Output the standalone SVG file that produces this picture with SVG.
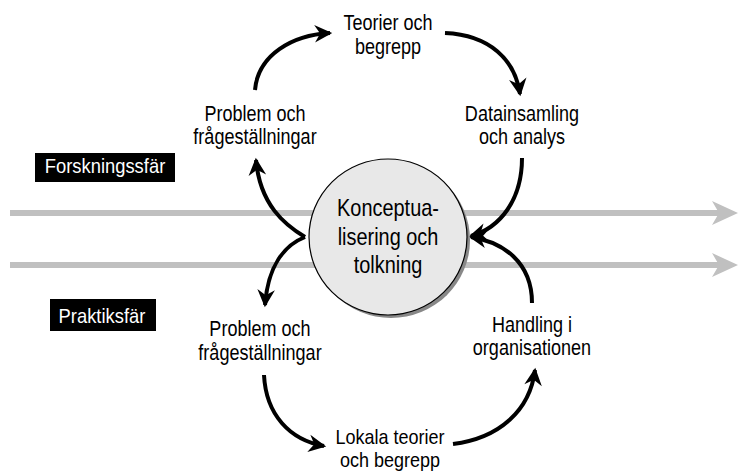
<svg xmlns="http://www.w3.org/2000/svg" width="738" height="472" viewBox="0 0 738 472">
<style>
.t{font-family:"Liberation Sans",Arial,sans-serif;font-size:22px;fill:#000;text-anchor:middle}
.c{font-size:24px}
.s{font-size:20px}
.w{font-family:"Liberation Sans",Arial,sans-serif;font-size:20px;fill:#fff;text-anchor:middle}
.a{fill:none;stroke:#000;stroke-width:4;marker-end:url(#ah)}
.g{stroke:#c0c0c0;stroke-width:6}
</style>
<defs>
<marker id="ah" markerUnits="userSpaceOnUse" markerWidth="22" markerHeight="22" viewBox="-16 -9 20 18" refX="0" refY="0" orient="auto">
<path d="M2,0 L-14,-8 L-9,0 L-14,8 Z" fill="#000"/>
</marker>
</defs>
<g id="lines">
<line class="g" x1="10" y1="213" x2="722" y2="213"/>
<path d="M738,213 L712,201 L719,213 L712,225 Z" fill="#c0c0c0"/>
<line class="g" x1="10" y1="265" x2="722" y2="265"/>
<path d="M738,265 L712,253 L719,265 L712,277 Z" fill="#c0c0c0"/>
</g>
<g id="connectors">
<path class="a" d="M255,90 C258,55 292,35 330,33"/>
<path class="a" d="M445,33 C490,35 515,60 520,94"/>
<path class="a" d="M522,158 C522,200 500,228 471,236"/>
<path class="a" d="M305,237 C285,225 260,205 256,160"/>
<path class="a" d="M305,237 C285,245 268,265 265,305"/>
<path class="a" d="M532,303 C532,262 503,242 471,237"/>
<path class="a" d="M264,375 C266,415 290,440 324,446"/>
<path class="a" d="M453,444 C500,438 530,410 535,370"/>
</g>
<g id="center">
<ellipse cx="391" cy="240" rx="79" ry="78" fill="#888"/>
<ellipse cx="388" cy="237" rx="79" ry="78" fill="#e8e8e8" stroke="#000" stroke-width="1.2"/>
<text class="t c" x="388" y="216" transform="matrix(0.83,0,0,1,65.96,0)">Konceptua-</text>
<text class="t c" x="388" y="245" transform="matrix(0.83,0,0,1,65.96,0)">lisering och</text>
<text class="t c" x="388" y="273" transform="matrix(0.83,0,0,1,65.96,0)">tolkning</text>
</g>
<g id="forskningssfar">
<rect x="35" y="153" width="140" height="29" fill="#000"/>
<text class="w" x="105" y="173" transform="matrix(0.92,0,0,1,8.4,0)">Forskningssfär</text>
</g>
<g id="praktiksfar">
<rect x="50" y="299" width="106" height="32" fill="#000"/>
<text class="w" x="102" y="323" transform="matrix(0.92,0,0,1,8.16,0)">Praktiksfär</text>
</g>
<g id="teorier" transform="matrix(0.82,0,0,1,69.84,0)"><text class="t" x="388" y="30">Teorier och</text><text class="t" x="388" y="54">begrepp</text></g>
<g id="problem1" transform="matrix(0.82,0,0,1,45.9,0)"><text class="t" x="255" y="121">Problem och</text><text class="t" x="255" y="144">frågeställningar</text></g>
<g id="data" transform="matrix(0.82,0,0,1,93.96,0)"><text class="t" x="522" y="121">Datainsamling</text><text class="t" x="522" y="144">och analys</text></g>
<g id="problem2" transform="matrix(0.82,0,0,1,46.8,0)"><text class="t" x="260" y="336">Problem och</text><text class="t" x="260" y="360">frågeställningar</text></g>
<g id="handling" transform="matrix(0.82,0,0,1,95.76,0)"><text class="t" x="532" y="332">Handling i</text><text class="t" x="532" y="355">organisationen</text></g>
<g id="lokala" transform="matrix(0.9,0,0,1,39,0)"><text class="t s" x="390" y="444">Lokala teorier</text><text class="t s" x="390" y="467">och begrepp</text></g>
</svg>
